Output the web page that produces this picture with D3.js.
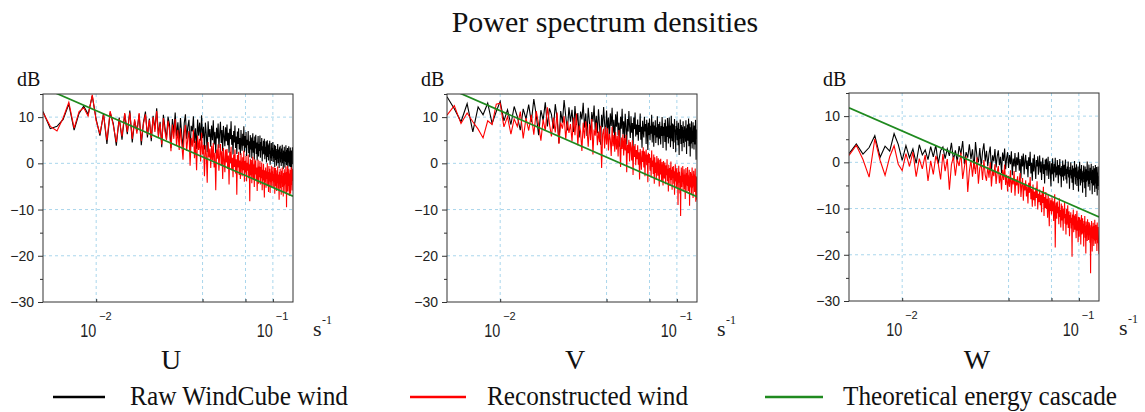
<!DOCTYPE html>
<html>
<head>
<meta charset="utf-8">
<script src="https://cdn.jsdelivr.net/npm/d3@7"></script>
<style>
  body { margin: 0; background: #fff; }
</style>
</head>
<body>
<svg id="chart" width="1145" height="412"></svg>
<script>
// spectra, one value per frequency bin (dB)
const freqStart = 0.005;
const freqStep = 0.0005;

const uRaw = [
  11.2, 7.5, 8.0, 9.5, 12.8, 7.2, 10.8, 12.4, 10.6, 14.6,
  9.5, 6.0, 10.8, 4.2, 11.0, 8.6, 3.8, 9.9, 5.1, 10.7,
  6.3, 11.4, 4.5, 9.2, 7.0, 10.6, 3.9, 8.8, 11.2, 5.6,
  9.7, 4.8, 10.3, 7.4, 11.9, 6.1, 9.0, 3.5, 10.5, 7.8,
  5.2, 10.1, 8.4, 3.3, 9.6, 6.7, 11.0, 5.8, 8.9, 4.6,
  9.8, 6.2, 3.4, 8.7, 10.6, 5.3, 7.9, 9.4, 2.8, 8.1,
  6.9, 10.2, 4.4, 7.6, 3.1, 9.5, 6.0, 8.8, 4.9, 10.4,
  5.5, 7.9, 3.0, 8.8, 6.3, 2.4, 9.1, 5.7, 7.4, 3.6,
  8.2, 5.0, 9.3, 4.1, 6.8, 2.2, 7.7, 5.4, 8.6, 3.3,
  6.5, 9.0, 4.4, 7.2, 2.6, 8.1, 5.9, 3.7, 7.8, 4.8,
  8.4, 3.9, 6.6, 2.3, 7.5, 5.2, 9.1, 4.0, 6.1, 1.9,
  7.0, 4.5, 8.2, 3.3, 5.8, 2.0, 6.9, 4.2, 7.6, 3.0,
  5.5, 1.8, 7.2, 4.6, 2.7, 6.4, 3.8, 8.0, 2.4, 5.9,
  3.4, 6.8, 1.6, 5.1, 3.9, 7.0, 2.2, 4.8, 1.3, 6.1,
  3.0, 5.6, 1.1, 4.4, 6.5, 2.3, 4.9, 0.8, 5.8, 3.2,
  6.2, 2.0, 4.5, 0.6, 3.8, 5.9, 1.5, 4.2, 2.7, 6.0,
  1.2, 4.6, 2.8, 5.5, 0.4, 3.7, 1.9, 4.9, 2.1, 5.3,
  0.9, 3.6, 1.7, 4.8, 0.2, 3.1, 5.0, 1.4, 3.9, 0.6,
  4.3, 2.0, 4.9, -0.3, 2.8, 1.1, 4.4, 0.5, 3.3, 1.6,
  4.6, 0.3, 2.9, 1.2, 4.0, -0.8, 2.5, 3.8, 0.7, 3.1,
  -0.5, 2.7, 1.0, 4.2, 0.1, 3.0, 1.8, -1.0, 3.5, 1.3,
  3.8, 0.2, 2.4, -0.6, 3.2, 1.5, 4.0, 0.0, 2.2, -1.2,
  2.8, 0.5, 3.6, 1.0, -0.9, 2.5, 0.3, 3.9, 1.4, -0.4,
  2.9, 0.8, 3.3, -1.1, 1.9, 0.2, 3.7, 1.1, -0.7, 2.6,
  0.4, 3.4, -0.8, 1.7, 2.8, -1.3, 2.1, 0.6, 3.5, -0.2, 1.2
];
const uRec = [
  11.0, 8.0, 7.0, 9.8, 13.2, 7.6, 11.2, 12.0, 10.2, 14.8,
  9.2, 6.4, 10.5, 5.0, 11.3, 8.2, 4.6, 9.6, 5.8, 10.9,
  6.8, 11.0, 5.3, 9.5, 6.4, 10.9, 4.8, 8.5, 10.6, 6.2,
  9.4, 5.5, 10.0, 6.8, 11.3, 5.7, 8.6, 4.1, 9.8, 6.9,
  5.0, 9.2, 7.1, 2.6, 8.4, 5.3, 9.6, 3.8, 7.2, 2.9,
  7.6, 4.3, 0.8, 6.5, 8.3, 2.7, 5.4, 7.0, -0.5, 5.5,
  3.6, 7.2, 1.1, 4.8, -1.5, 6.0, 2.9, 5.3, 0.4, 6.6,
  1.9, 4.0, -2.8, 3.9, 2.0, -4.2, 4.6, 1.3, 3.2, -1.0,
  3.8, 0.6, 4.4, -0.9, 2.3, -5.8, 3.0, 1.0, 4.1, -1.6,
  1.9, 4.2, -0.5, 2.6, -3.4, 3.3, 0.8, -1.9, 3.0, 0.2,
  3.1, -1.2, 1.7, -4.6, 2.5, 0.0, 3.6, -1.5, 1.2, -3.0,
  1.9, -0.8, 3.0, -2.2, 0.9, -6.8, 1.8, -0.9, 2.5, -2.5,
  0.6, -3.4, 2.2, -0.4, -2.8, 1.3, -1.5, 2.7, -4.0, 0.5,
  -2.0, 1.6, -3.9, 0.1, -1.6, 1.9, -3.2, -0.2, -8.2, 1.0,
  -2.6, 0.7, -4.3, -0.5, 1.4, -3.5, -0.2, -5.1, 0.9, -2.4,
  0.6, -3.8, -0.9, -6.0, -1.8, 0.8, -4.4, -0.7, -3.0, 0.5,
  -4.6, -0.8, -3.2, 0.2, -5.8, -1.4, -3.7, -0.1, -3.3, -7.4,
  -1.5, -4.0, -0.9, -5.3, -1.7, -3.4, 0.0, -4.8, -1.9, -6.2,
  -0.6, -3.9, -1.2, -6.4, -2.0, -4.1, -0.5, -5.0, -1.7, -3.8,
  -0.8, -5.2, -2.3, -4.1, -0.9, -6.6, -2.6, -1.0, -4.9, -1.5,
  -6.0, -2.2, -4.3, -0.7, -5.5, -2.4, -3.6, -7.9, -1.8, -4.0,
  -1.2, -5.4, -2.5, -6.8, -1.6, -3.9, -0.9, -5.1, -2.7, -7.2,
  -2.1, -4.8, -1.3, -3.6, -6.3, -2.0, -4.5, -0.7, -3.3, -9.5,
  -1.9, -4.4, -0.6, -6.1, -2.8, -4.9, -1.1, -3.5, -7.0, -2.2,
  -5.3, -1.4, -6.6, -2.9, -0.8, -4.7, -2.5, -5.9, -1.2, -3.8, -2.0
];
const vRaw = [
  14.4, 11.8, 9.0, 12.9, 6.8, 12.2, 10.5, 13.0, 8.6, 11.2,
  13.4, 9.2, 11.6, 8.4, 12.3, 10.1, 7.2, 11.8, 9.6, 12.7,
  8.9, 13.9, 10.4, 6.1, 11.5, 9.3, 13.2, 8.0, 11.9, 10.6,
  7.5, 12.8, 9.7, 4.4, 11.3, 8.8, 13.7, 10.2, 7.1, 12.1,
  9.0, 11.6, 6.8, 12.4, 8.3, 10.9, 5.6, 11.2, 9.5, 13.1,
  7.7, 10.8, 5.9, 12.0, 8.9, 6.4, 11.1, 9.0, 12.5, 7.2,
  10.3, 6.5, 11.7, 8.2, 4.0, 10.5, 7.8, 12.2, 8.6, 5.8,
  11.4, 7.3, 9.9, 5.2, 10.8, 8.1, 12.0, 6.6, 9.4, 4.7,
  10.6, 7.9, 11.2, 6.0, 8.8, 3.6, 10.1, 7.5, 11.8, 6.3,
  9.1, 5.4, 10.7, 7.8, 4.1, 9.6, 6.9, 11.3, 8.0, 5.5,
  10.2, 6.6, 8.7, 3.2, 9.9, 7.4, 11.0, 5.8, 8.4, 6.2,
  9.5, 4.9, 8.3, 6.8, 10.8, 5.1, 7.9, 3.4, 9.2, 7.0,
  5.6, 10.1, 6.9, 8.5, 4.2, 9.4, 7.3, 2.9, 8.8, 6.1,
  9.7, 5.0, 8.1, 6.4, 10.5, 4.5, 7.7, 9.0, 3.6, 8.2,
  6.1, 9.3, 4.4, 7.8, 5.6, 10.2, 6.7, 3.9, 8.5, 5.3,
  9.0, 6.2, 4.1, 8.1, 5.9, 10.0, 7.2, 3.3, 7.9, 6.0,
  8.7, 4.6, 9.5, 6.4, 2.8, 8.0, 5.7, 9.8, 6.9, 4.3,
  7.6, 9.9, 5.4, 8.2, 3.5, 7.1, 10.3, 6.0, 4.8, 8.6,
  5.9, 3.1, 8.4, 6.8, 9.6, 4.5, 7.3, 2.4, 8.1, 6.2,
  9.2, 5.0, 7.7, 3.9, 8.8, 6.1, 1.8, 7.4, 5.3, 9.5,
  6.6, 4.2, 8.3, 5.5, 2.6, 7.9, 6.0, 9.1, 4.4, 7.2,
  3.5, 8.0, 5.8, 7.1, 4.7, 9.3, 6.2, 2.0, 7.6, 5.1,
  8.4, 4.9, 6.8, 9.7, 3.7, 7.3, 5.4, 8.6, 1.5, 6.5,
  7.8, 4.3, 9.1, 5.9, 3.2, 7.0, 6.3, 8.9, 4.6, 6.7,
  3.0, 8.2, 5.6, 7.5, 4.1, 9.4, 6.1, 0.8, 7.3, 5.2, 6.6
];
const vRec = [
  10.4, 12.5, 8.6, 10.9, 9.0, 7.4, 5.5, 9.2, 8.4, 12.8,
  13.0, 7.9, 10.1, 6.3, 9.6, 8.0, 11.2, 5.4, 9.8, 7.1,
  10.5, 6.2, 11.3, 8.4, 4.9, 9.5, 7.0, 12.1, 8.6, 5.8,
  9.9, 6.7, 11.0, 4.2, 8.8, 7.5, 10.2, 5.3, 9.1, 6.6,
  8.5, 4.8, 9.9, 6.1, 10.8, 3.9, 8.2, 6.9, 2.7, 8.8,
  5.4, 9.1, 7.2, 3.6, 8.5, 5.0, 9.6, 1.9, 7.3, 6.0,
  8.8, 3.9, 6.9, 4.6, 8.1, -1.0, 6.3, 7.5, 3.2, 7.9,
  4.1, 7.6, 2.8, 6.4, 5.2, 1.6, 7.9, 3.7, 6.1, 2.5,
  6.8, 3.0, 5.9, 1.5, 7.2, 4.4, -0.8, 5.6, 3.1, 6.3,
  1.7, 5.5, 2.8, 6.2, -1.9, 4.0, 2.2, 5.1, 0.4, 4.6,
  3.3, 0.6, 5.0, -2.5, 3.8, 1.4, 4.2, -0.4, 2.9, 0.9,
  3.9, -0.3, 2.4, -3.5, 3.1, 0.8, -1.4, 2.7, 0.3, 3.5,
  -0.9, 2.6, -2.8, 1.7, 3.0, -0.4, 1.9, -4.1, 2.3, 0.1,
  2.0, -1.6, 1.2, -3.0, 2.8, -0.8, 0.6, -2.3, 1.9, -4.4,
  1.3, -2.1, 0.2, -3.6, 1.6, -0.9, -2.7, 1.1, -1.5, -5.0,
  0.8, -2.4, 1.0, -1.8, -3.9, 0.3, -1.1, -4.8, 0.5, -2.0,
  -3.3, 0.2, -1.9, -4.5, -0.4, -2.6, 0.9, -3.8, -1.2, -6.1,
  -0.3, -3.1, -1.0, -4.9, -2.2, 0.4, -3.6, -1.4, -5.7, -0.8,
  -3.2, -0.6, -4.4, -1.7, -6.8, -2.5, -0.2, -3.9, -1.3, -5.2,
  -1.0, -4.6, -2.0, -9.0, -3.1, -0.5, -4.2, -1.8, -6.5, -2.7,
  -11.4, -3.3, -0.9, -5.1, -2.2, -4.0, -0.6, -6.0, -2.9, -4.4,
  -1.3, -5.6, -2.4, -7.7, -3.5, -1.0, -4.8, -2.1, -6.3, -3.2,
  -0.8, -4.9, -2.6, -6.0, -3.7, -1.4, -9.2, -3.0, -5.2, -1.9,
  -4.5, -2.2, -6.8, -3.1, -0.9, -5.3, -2.7, -7.5, -3.8, -1.6,
  -5.0, -2.4, -6.2, -3.3, -1.1, -4.6, -8.3, -2.8, -5.5, -3.0, -7.9
];
const wRaw = [
  1.9, 4.0, 1.8, 3.2, 5.8, 1.1, 3.5, 2.4, 6.2, 3.9,
  0.4, 3.6, 1.0, 2.9, -0.2, 3.8, 1.6, 2.7, 0.6, 3.4,
  1.2, 3.7, -0.3, 2.5, 3.3, 0.8, 2.9, 1.4, 4.2, 0.5,
  2.6, 0.1, 3.5, 1.8, 4.6, -0.4, 2.2, 1.0, 3.9, 0.7,
  2.8, -1.4, 4.4, 1.2, 0.0, 3.1, -0.9, 2.3, 4.1, 0.2,
  2.5, -0.8, 1.8, 3.4, -1.9, 1.5, 0.2, 2.9, -1.1, 1.3,
  2.6, -0.6, 1.2, -2.3, 2.1, 0.3, 3.0, -1.5, 0.9, 2.2,
  -1.2, 1.6, -0.4, 2.4, -2.8, 0.8, -0.9, 2.0, -2.1, 1.1,
  -0.6, 2.2, -1.8, 0.7, -3.5, 1.4, -0.9, 1.9, -2.6, 0.3,
  1.6, -1.5, 0.4, -3.2, 1.1, -0.8, 2.3, -2.4, -0.1, -4.0,
  0.9, -2.0, 1.7, -1.2, -3.6, 0.5, -0.9, 1.3, -2.7, -0.3,
  1.5, -2.2, 0.2, -3.8, -0.6, 1.0, -2.5, -0.4, -4.6, 0.6,
  -1.7, 0.8, -2.9, -0.5, 1.2, -3.6, -1.0, 0.3, -2.4, -5.2,
  -0.2, -2.6, 0.9, -1.9, -4.1, -0.3, -2.2, 1.0, -3.3, -0.9,
  -2.8, 0.5, -1.4, -4.5, -0.6, -2.7, 0.7, -3.0, -1.2, -5.4,
  -0.8, -3.1, 0.4, -2.2, -4.0, -0.5, -2.9, -1.1, 0.6, -3.7,
  -1.4, -4.6, -0.9, -2.5, 0.2, -3.3, -1.6, -5.7, -1.0, -2.8,
  0.0, -3.5, -1.6, -4.4, -0.7, -2.9, -6.0, -1.3, -3.1, 0.3,
  -2.6, -4.8, -1.1, -3.4, -0.4, -5.1, -2.0, -3.8, -0.9, -6.3,
  -1.7, -3.6, 0.1, -2.8, -5.0, -1.4, -3.9, -0.6, -4.4, -2.2,
  -6.6, -1.8, -3.5, -0.7, -4.3, -2.1, -5.6, -0.9, -3.2, -7.5,
  -1.5, -4.2, -2.4, 0.2, -3.9, -1.9, -5.3, -2.6, -0.5, -4.7,
  -2.0, -6.1, -1.2, -3.8, -2.7, -0.3, -4.5, -2.2, -6.9, -1.6,
  -3.4, -0.8, -5.0, -2.5, -4.1, -1.3, -6.4, -2.9, -0.6, -4.6,
  -2.3, -5.7, -1.0, -3.6, -7.2, -2.2, -4.3, -0.9, -5.1, -3.0, -6.0
];
const wRec = [
  1.5, 3.7, 0.6, -3.2, 5.1, 0.4, -2.8, 1.2, 3.6, -0.4,
  -1.8, 1.9, -0.9, 2.2, -3.1, 0.8, -1.4, 1.6, -4.0, 0.3,
  -2.6, 1.4, -0.3, -3.7, 1.8, -1.9, 0.7, -5.9, -0.5, 1.2,
  -2.9, 0.6, -0.8, 2.1, -3.6, -1.0, 1.3, -6.4, -1.9, 0.4,
  -3.1, 0.2, -2.5, 1.1, -4.6, -1.2, -0.3, -3.8, 0.5, -2.7,
  -4.0, -0.9, -3.3, 0.0, -5.2, -1.8, -3.0, -0.4, -4.7, -2.1,
  -0.8, -4.5, -2.4, -5.9, -1.6, -3.8, -0.5, -4.9, -2.7, -6.3,
  -2.9, -5.3, -1.7, -6.6, -3.4, -4.8, -1.9, -7.2, -3.6, -5.0,
  -3.0, -6.8, -4.1, -2.3, -7.5, -5.0, -3.4, -8.3, -4.6, -6.1,
  -3.9, -7.4, -5.2, -8.9, -4.4, -6.6, -3.2, -8.0, -5.8, -9.6,
  -4.8, -8.2, -6.3, -9.5, -5.5, -7.7, -4.1, -10.2, -6.8, -8.6,
  -5.9, -9.3, -7.0, -10.8, -6.2, -8.8, -5.3, -11.6, -7.5, -9.9,
  -6.4, -10.1, -7.9, -12.0, -6.9, -9.6, -13.8, -7.7, -10.5, -8.2,
  -11.3, -7.6, -10.6, -8.4, -12.7, -9.2, -6.9, -18.4, -10.0, -8.7,
  -12.2, -8.5, -11.0, -9.6, -13.4, -7.8, -11.8, -10.3, -14.1, -8.9,
  -12.6, -9.4, -11.5, -14.8, -10.0, -12.1, -8.6, -13.3, -11.2, -15.6,
  -10.1, -13.5, -11.9, -9.3, -14.2, -12.4, -10.6, -16.0, -11.4, -13.1,
  -10.8, -14.3, -12.0, -20.4, -11.3, -13.6, -10.2, -15.1, -12.7, -11.5,
  -14.6, -11.2, -13.9, -16.4, -12.1, -10.5, -14.8, -12.6, -17.3, -11.8,
  -13.5, -16.1, -11.9, -14.7, -12.4, -17.8, -13.0, -11.4, -15.6, -13.9,
  -12.1, -15.4, -13.3, -18.2, -12.7, -14.9, -11.6, -16.3, -13.8, -19.7,
  -12.8, -15.9, -13.6, -17.0, -12.3, -15.1, -14.0, -16.8, -12.9, -15.5,
  -13.2, -17.4, -14.1, -24.0, -13.6, -16.2, -12.7, -15.8, -19.3, -13.9,
  -16.5, -13.1, -15.6, -18.1, -13.8, -16.9, -12.4, -15.2, -17.6, -14.3,
  -13.5, -16.8, -14.6, -19.2, -13.0, -15.7, -17.5, -14.0, -16.3, -18.9, -19.9
];

// -5/3 cascade, end points at the two edges of the frequency range
const cascadeFreqs = [0.005, 0.13];
const uCascade = [16.4, -7.1];
const vCascade = [16.4, -7.2];
const wCascade = [11.8, -11.8];

const panelNames = ["U", "V", "W"];
const xDomain = [0.005, 0.13];
const yDomain = [-30, 15];
const yMajor = [-30, -20, -10, 0, 10];
const yMinor = [-25, -15, -5, 5, 15];
const yGrid = [-20, -10, 0, 10];
const xGrid = [0.01, 0.04, 0.07, 0.1];
const xLabelValues = [0.01, 0.1];
const xLabelExp = ["−2", "−1"];
const legendNames = ["Raw WindCube wind", "Reconstructed wind", "Theoretical energy cascade"];

const colors = { raw: "#000000", rec: "#ff0000", cascade: "#1f8a1f" };
const serif = "'Liberation Serif', 'Times New Roman', serif";
const sans = "'Liberation Sans', Arial, sans-serif";

const panels = [
  { name: panelNames[0], raw: uRaw, rec: uRec, cascade: uCascade },
  { name: panelNames[1], raw: vRaw, rec: vRec, cascade: vCascade },
  { name: panelNames[2], raw: wRaw, rec: wRec, cascade: wCascade }
];

const panelLeft = [43, 447, 849];
const panelTop = [94, 94, 93];
const plotW = 250, plotH = 208;

const svg = d3.select("#chart");

svg.append("text")
  .attr("x", 605)
  .attr("y", 32)
  .attr("text-anchor", "middle")
  .attr("font-family", serif)
  .attr("font-size", 30)
  .attr("fill", "#111")
  .text("Power spectrum densities");

panels.forEach(function (p, k) {
  const g = svg.append("g")
    .attr("transform", `translate(${panelLeft[k]}, ${panelTop[k]})`);

  const x = d3.scaleLog().domain(xDomain).range([0, plotW]);
  const y = d3.scaleLinear().domain(yDomain).range([plotH, 0]);

  // dashed grid
  g.append("g")
    .selectAll("line")
    .data(xGrid)
    .join("line")
    .attr("x1", (d) => x(d))
    .attr("x2", (d) => x(d))
    .attr("y1", 0)
    .attr("y2", plotH)
    .attr("stroke", "#a9d6ec")
    .attr("stroke-dasharray", "3,3");
  g.append("g")
    .selectAll("line")
    .data(yGrid)
    .join("line")
    .attr("x1", 0)
    .attr("x2", plotW)
    .attr("y1", (d) => y(d))
    .attr("y2", (d) => y(d))
    .attr("stroke", "#a9d6ec")
    .attr("stroke-dasharray", "3,3");

  g.append("clipPath")
    .attr("id", "clip" + k)
    .append("rect")
    .attr("width", plotW)
    .attr("height", plotH);

  const plot = g.append("g").attr("clip-path", `url(#clip${k})`);

  const spectrum = d3.line()
    .x((d, i) => x(freqStart + i * freqStep))
    .y((d) => y(d));

  plot.append("path")
    .datum(p.raw)
    .attr("fill", "none")
    .attr("stroke", colors.raw)
    .attr("stroke-width", 1.1)
    .attr("d", spectrum);

  plot.append("path")
    .datum(p.rec)
    .attr("fill", "none")
    .attr("stroke", colors.rec)
    .attr("stroke-width", 1.1)
    .attr("d", spectrum);

  plot.append("path")
    .datum(p.cascade)
    .attr("fill", "none")
    .attr("stroke", colors.cascade)
    .attr("stroke-width", 1.7)
    .attr("d", d3.line().x((d, i) => x(cascadeFreqs[i])).y((d) => y(d)));

  // axes
  const yAxis = g.append("g")
    .call(d3.axisLeft(y).tickValues(yMajor).tickSize(5).tickPadding(4))
    .attr("font-family", sans)
    .attr("font-size", 14);
  yAxis.select(".domain").remove();
  yAxis.selectAll("line").attr("stroke", "#333");
  yAxis.selectAll("text").attr("fill", "#222");

  const yMinorAxis = g.append("g")
    .call(d3.axisLeft(y).tickValues(yMinor).tickSize(3).tickFormat(""));
  yMinorAxis.select(".domain").remove();
  yMinorAxis.selectAll("line").attr("stroke", "#333");

  const xAxis = g.append("g")
    .attr("transform", `translate(0, ${plotH})`)
    .call(d3.axisBottom(x).tickValues(xGrid).tickSize(-3).tickFormat(""));
  xAxis.select(".domain").remove();
  xAxis.selectAll("line").attr("stroke", "#333");

  g.append("rect")
    .attr("width", plotW)
    .attr("height", plotH)
    .attr("fill", "none")
    .attr("stroke", "#333")
    .attr("stroke-width", 1);

  // 10^n labels
  xLabelValues.forEach(function (v, j) {
    g.append("text")
      .attr("x", x(v) - 16)
      .attr("y", plotH + 35)
      .attr("font-family", sans)
      .attr("font-size", 18)
      .attr("textLength", 16)
      .attr("lengthAdjust", "spacingAndGlyphs")
      .attr("fill", "#222")
      .text("10");
    g.append("text")
      .attr("x", x(v) + 3)
      .attr("y", plotH + 18)
      .attr("font-family", sans)
      .attr("font-size", 11)
      .attr("fill", "#222")
      .text(xLabelExp[j]);
  });

  g.append("text")
    .attr("x", plotW + 20)
    .attr("y", plotH + 34)
    .attr("font-family", serif)
    .attr("font-size", 22)
    .attr("fill", "#222")
    .text("s");
  g.append("text")
    .attr("x", plotW + 29)
    .attr("y", plotH + 22)
    .attr("font-family", serif)
    .attr("font-size", 12)
    .attr("fill", "#222")
    .text("-1");

  g.append("text")
    .attr("x", -26)
    .attr("y", 86 - panelTop[k])
    .attr("font-family", serif)
    .attr("font-size", 20)
    .attr("fill", "#111")
    .text("dB");

  g.append("text")
    .attr("x", plotW / 2 + 3)
    .attr("y", 369 - panelTop[k])
    .attr("text-anchor", "middle")
    .attr("font-family", serif)
    .attr("font-size", 28)
    .attr("fill", "#111")
    .text(p.name);
});

// legend
const legendLineX = [53, 410, 765];
const legendLineW = [52, 56, 58];
const legendTextX = [130, 487, 843];
const legendTextW = [218, 201, 274];
const legendColors = [colors.raw, colors.rec, colors.cascade];

const legend = svg.append("g");
legendNames.forEach(function (name, i) {
  legend.append("line")
    .attr("x1", legendLineX[i])
    .attr("x2", legendLineX[i] + legendLineW[i])
    .attr("y1", 397)
    .attr("y2", 397)
    .attr("stroke", legendColors[i])
    .attr("stroke-width", 2.5);
  legend.append("text")
    .attr("x", legendTextX[i])
    .attr("y", 405)
    .attr("font-family", serif)
    .attr("font-size", 27)
    .attr("fill", "#111")
    .attr("textLength", legendTextW[i])
    .attr("lengthAdjust", "spacingAndGlyphs")
    .text(name);
});
</script>
</body>
</html>
